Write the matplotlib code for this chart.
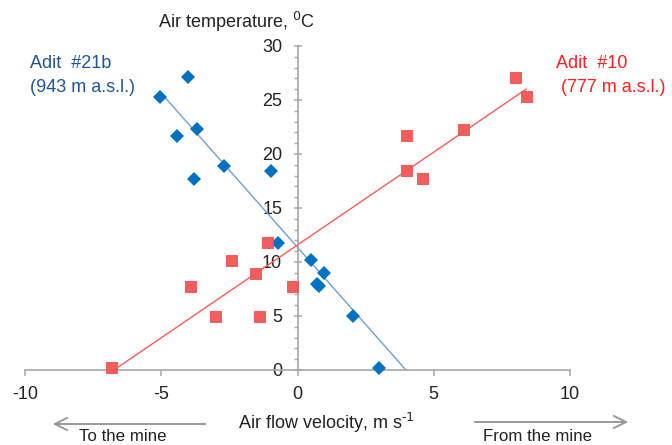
import numpy as np
import matplotlib.pyplot as plt
from matplotlib.ticker import MultipleLocator

plt.rcParams['font.family'] = ['Liberation Sans', 'DejaVu Sans']
plt.rcParams['axes.unicode_minus'] = False

# Adit #21b (blue diamonds)
v21b = [-5.03, -4.03, -4.43, -3.70, -3.81, -2.71, -0.98, -0.72, 0.49, 0.70, 0.78, 0.97, 2.03, 2.99]
t21b = [25.3, 27.1, 21.7, 22.3, 17.7, 18.9, 18.4, 11.8, 10.2, 8.0, 7.8, 9.0, 5.0, 0.2]
fit21b = (-2.854, 11.36)        # slope, intercept
fit21b_range = (-4.85, 3.98)

# Adit #10 (red squares)
v10 = [8.03, 8.42, 4.00, 6.12, 4.00, 4.62, -1.10, -2.39, -1.51, -3.90, -0.18, -2.98, -1.39, -6.82]
t10 = [27.0, 25.3, 21.7, 22.2, 18.4, 17.7, 11.75, 10.1, 8.9, 7.7, 7.7, 4.95, 4.95, 0.2]
fit10 = (1.719, 11.58)
fit10_range = (-6.65, 8.39)

W, H = 672, 445
fs = 13
fig = plt.figure(figsize=(W / 100, H / 100), dpi=100)
ax = fig.add_axes([25 / W, 75 / H, 545 / W, 324 / H])

axis_col = '#a6a6a6'
blue = '#0070c0'
red = '#f05555'

# trend lines
for (k, b), (x0, x1), c in [(fit21b, fit21b_range, '#6f9fd0'), (fit10, fit10_range, '#ff5a5a')]:
    xs = np.array([x0, x1])
    ax.plot(xs, k * xs + b, color=c, lw=1.0, zorder=2)

ax.plot(v21b, t21b, 'D', color=blue, ms=7, mew=0, clip_on=False, zorder=3)
ax.plot(v10, t10, 's', color=red, ms=8.2, mew=0, alpha=0.95, clip_on=False, zorder=3)

ax.set_xlim(-10, 10)
ax.set_ylim(0, 30)
ax.spines['left'].set_position(('data', 0))
ax.spines['bottom'].set_position(('data', 0))
ax.spines['top'].set_visible(False)
ax.spines['right'].set_visible(False)
for s in ['left', 'bottom']:
    ax.spines[s].set_color(axis_col)
    ax.spines[s].set_linewidth(1.2)

ax.xaxis.set_major_locator(MultipleLocator(5))
ax.yaxis.set_major_locator(MultipleLocator(5))
ax.yaxis.set_minor_locator(MultipleLocator(1))
ax.tick_params(axis='x', which='major', direction='out', length=4.5, width=1.1,
               color=axis_col, labelsize=fs, labelcolor='#222222', pad=7)
ax.tick_params(axis='y', which='major', direction='inout', length=6, width=1.1,
               color=axis_col, labelsize=fs, labelcolor='#222222', pad=8)
ax.tick_params(axis='y', which='minor', direction='out', length=3, width=1.0, color=axis_col)

# axis titles
fig.text(236 / W, 1 - 22 / H, 'Air temperature, $^{0}$C', ha='center', va='center',
         fontsize=fs, color='#222222')
fig.text(326 / W, 1 - 423 / H, 'Air flow velocity, m s$^{\u20101}$', ha='center', va='center',
         fontsize=fs, color='#222222')

# direction arrows
arrow = dict(arrowstyle='->', color='#999999', lw=1.4, mutation_scale=22)
ax.annotate('', xy=(50 / W, 1 - 424 / H), xytext=(208 / W, 1 - 424 / H),
            xycoords='figure fraction', textcoords='figure fraction', arrowprops=arrow)
ax.annotate('', xy=(631 / W, 1 - 422 / H), xytext=(472 / W, 1 - 422 / H),
            xycoords='figure fraction', textcoords='figure fraction', arrowprops=arrow)
fig.text(123 / W, 1 / H, 'To the mine', ha='center', va='bottom', fontsize=12.2, color='#222222')
fig.text(538 / W, 1 / H, 'From the mine', ha='center', va='bottom', fontsize=12.2, color='#222222')

# series labels
fig.text(30 / W, 1 - 63 / H, 'Adit  #21b', ha='left', va='center', fontsize=fs, color='#1f5596')
fig.text(30 / W, 1 - 87 / H, '(943 m a.s.l.)', ha='left', va='center', fontsize=fs, color='#1f5596')
fig.text(556 / W, 1 - 63 / H, 'Adit  #10', ha='left', va='center', fontsize=fs, color='#ff2020')
fig.text(561 / W, 1 - 87 / H, '(777 m a.s.l.)', ha='left', va='center', fontsize=fs, color='#ff2020')

fig.savefig('out.png', dpi=100)
